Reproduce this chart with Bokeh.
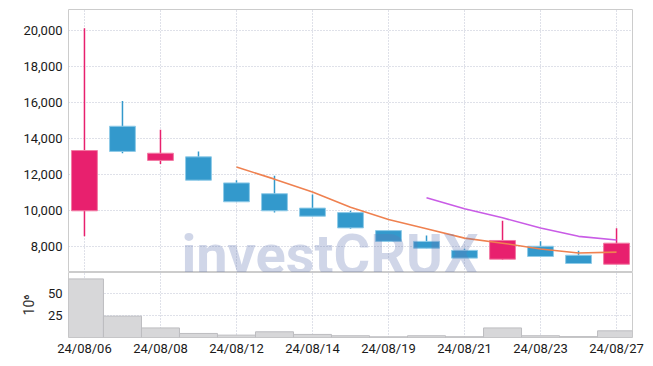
from bokeh.plotting import figure
from bokeh.layouts import column
from bokeh.models import ColumnDataSource, FixedTicker, Range1d, NumeralTickFormatter, Label
from bokeh.embed import file_html
from bokeh.resources import INLINE

dates = ["24/08/06", "24/08/07", "24/08/08", "24/08/09", "24/08/12", "24/08/13", "24/08/14",
         "24/08/16", "24/08/19", "24/08/20", "24/08/21", "24/08/22", "24/08/23", "24/08/26", "24/08/27"]
open_ = [10000, 14700, 12800, 13000, 11550, 10950, 10150, 9900, 8900, 8300, 7800, 7310, 8030, 7530, 7030]
high = [20150, 16100, 14500, 13300, 11700, 11950, 10900, 10000, 8900, 8630, 7890, 9450, 8310, 7780, 9030]
low = [8580, 13200, 12600, 11700, 10500, 9900, 9700, 9000, 8300, 7920, 7370, 7280, 7460, 7070, 7030]
close = [13350, 13300, 13200, 11700, 10500, 10000, 9700, 9050, 8300, 7920, 7370, 8350, 7460, 7070, 8200]
volume = [66.7, 24.3, 10.9, 4.6, 2.7, 6.5, 3.5, 2.0, 0.8, 2.0, 0.9, 10.9, 2.0, 1.0, 7.6]  # x 10^6
ma5 = [12430, 11760, 11050, 10200, 9520, 9000, 8480, 8200, 7880, 7650, 7700]   # from 24/08/12
ma10 = [10730, 10110, 9610, 9040, 8580, 8380]                                  # from 24/08/20
price_ticks = [8000, 10000, 12000, 14000, 16000, 18000, 20000]
vol_ticks = [25, 50]
label_idx = [0, 2, 4, 6, 8, 10, 12, 14]

UP, DOWN = "#e8206e", "#3399cc"
UP_EDGE, DOWN_EDGE = "#f27aa3", "#8fcbe8"
FONT = "Roboto"
GRID = "#bfc3d3"
TXT = "#1a1a1a"

n = len(dates)
idx = list(range(n))
up = [c >= o for o, c in zip(open_, close)]
src = ColumnDataSource(dict(
    x=idx, open=open_, close=close, high=high, low=low,
    top=[max(o, c) for o, c in zip(open_, close)],
    bottom=[min(o, c) for o, c in zip(open_, close)],
    color=[UP if u else DOWN for u in up],
    edge=[UP_EDGE if u else DOWN_EDGE for u in up],
    vol=volume,
))

xr = Range1d(-0.42, n - 1 + 0.42)

p = figure(width=645, height=272, x_range=xr, y_range=Range1d(6570, 21190),
           output_backend="svg", toolbar_location=None,
           min_border_left=68, min_border_right=13, min_border_top=9, min_border_bottom=0)
p.xaxis.visible = False
p.xgrid.ticker = FixedTicker(ticks=label_idx)
p.yaxis.ticker = FixedTicker(ticks=price_ticks)
p.yaxis.formatter = NumeralTickFormatter(format="0,0")
for g in (p.xgrid, p.ygrid):
    g.grid_line_color = GRID
    g.grid_line_dash = "1 2"
p.yaxis.axis_line_color = None
p.yaxis.major_tick_line_color = None
p.yaxis.minor_tick_line_color = None
p.yaxis.major_tick_out = 0
p.yaxis.major_label_text_font = FONT
p.yaxis.major_label_text_font_size = "13px"
p.yaxis.major_label_text_color = TXT
p.yaxis.major_label_standoff = 6
p.outline_line_color = "#cccccc"

p.segment(x0="x", x1="x", y0="low", y1="high", color="color", line_width=1.5, source=src)
p.vbar(x="x", width=0.68, top="top", bottom="bottom", fill_color="color",
       line_color="edge", line_width=1, source=src)
p.line(idx[4:], ma5, line_color="#ef8150", line_width=1.6)
p.line(idx[9:], ma10, line_color="#c95ce6", line_width=1.6)

wm = Label(x=2.55, y=9400, text="investCRUX", text_font=FONT, text_font_style="bold",
           text_font_size="56px", text_color="#6276b2", text_alpha=0.3,
           text_baseline="top", text_align="left")
p.add_layout(wm)

v = figure(width=645, height=87, x_range=xr, y_range=Range1d(0, 74),
           output_backend="svg", toolbar_location=None,
           min_border_left=68, min_border_right=13, min_border_top=0, min_border_bottom=22)
v.vbar(x="x", width=1.0, top="vol", bottom=0, fill_color="#d7d7d9",
       line_color="#bdbdc0", line_width=1, source=src)
v.xaxis.ticker = FixedTicker(ticks=label_idx)
v.xaxis.major_label_overrides = {i: dates[i] for i in label_idx}
v.yaxis.ticker = FixedTicker(ticks=vol_ticks)
v.xgrid.ticker = FixedTicker(ticks=label_idx)
for g in (v.xgrid, v.ygrid):
    g.grid_line_color = GRID
    g.grid_line_dash = "1 2"
for ax in (v.xaxis, v.yaxis):
    ax.axis_line_color = None
    ax.major_tick_line_color = None
    ax.minor_tick_line_color = None
    ax.major_tick_out = 0
    ax.major_tick_in = 0
    ax.major_label_text_font = FONT
    ax.major_label_text_font_size = "13px"
    ax.major_label_text_color = TXT
v.xaxis.major_label_standoff = 3
v.yaxis.major_label_standoff = 6
v.yaxis.axis_label = "10⁶"
v.yaxis.axis_label_text_font = FONT
v.yaxis.axis_label_text_font_style = "normal"
v.yaxis.axis_label_text_font_size = "14px"
v.yaxis.axis_label_text_color = "#333333"
v.yaxis.axis_label_standoff = 8
v.outline_line_color = "#cccccc"

layout = column(p, v, spacing=0)
open("out.html", "w").write(file_html(layout, INLINE))
